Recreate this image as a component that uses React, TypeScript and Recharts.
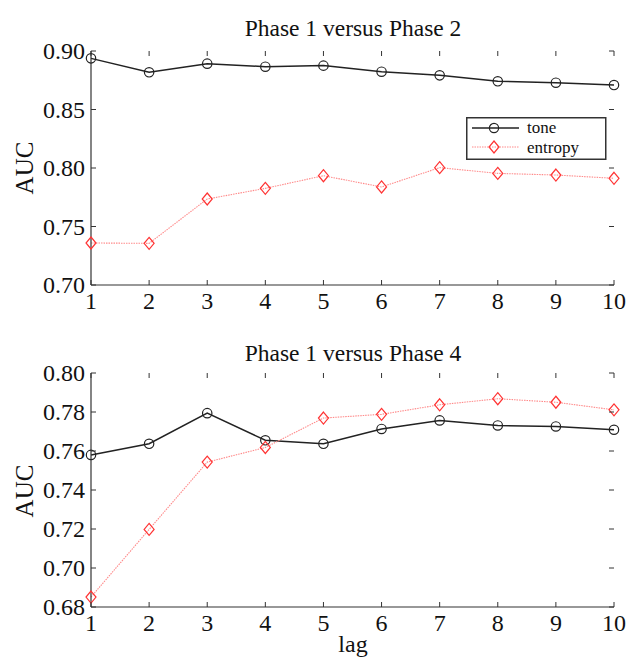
import React from 'react';
import { LineChart, Line, XAxis, YAxis, Legend } from 'recharts';

const lags = [1, 2, 3, 4, 5, 6, 7, 8, 9, 10];
const toneP2 = [0.8937, 0.8818, 0.8892, 0.8866, 0.8875, 0.8823, 0.8792, 0.8741, 0.8729, 0.8709];
const entropyP2 = [0.7359, 0.7356, 0.7735, 0.7826, 0.7934, 0.7838, 0.8003, 0.7954, 0.794, 0.7912];
const toneP4 = [0.758, 0.7637, 0.7794, 0.7655, 0.7637, 0.7713, 0.7757, 0.7731, 0.7726, 0.7709];
const entropyP4 = [0.6851, 0.7198, 0.7543, 0.7618, 0.7769, 0.7788, 0.7837, 0.7868, 0.785, 0.7811];
const ticksP2 = [0.7, 0.75, 0.8, 0.85, 0.9];
const ticksP4 = [0.68, 0.7, 0.72, 0.74, 0.76, 0.78, 0.8];
const titles = ['Phase 1 versus Phase 2', 'Phase 1 versus Phase 4'];

const FONT = '"Liberation Serif", "Times New Roman", serif';
const W = 627;
const PLOT_W = 523;
const PLOT_H = 234;
const AX = '#333';
const TONE = '#222';
const ENT_LINE = '#ff8a8a';
const ENT_MARK = '#ff3333';

const XTick = (props: any) => {
  const { x, y, payload } = props;
  const ay = y - 6;
  return (
    <g>
      <line x1={x} x2={x} y1={ay} y2={ay - 5} stroke={AX} strokeWidth={1} />
      <line x1={x} x2={x} y1={ay - PLOT_H} y2={ay - PLOT_H + 5} stroke={AX} strokeWidth={1} />
      <text x={x} y={ay + 24} textAnchor="middle" fontSize={24} fontFamily={FONT} fill="#111">
        {payload.value}
      </text>
    </g>
  );
};

const YTick = (props: any) => {
  const { x, y, payload } = props;
  const ax = x + 7;
  return (
    <g>
      <line x1={ax} x2={ax + 5} y1={y} y2={y} stroke={AX} strokeWidth={1} />
      <line x1={ax + PLOT_W - 5} x2={ax + PLOT_W} y1={y} y2={y} stroke={AX} strokeWidth={1} />
      <text x={ax - 6} y={y} dy="0.35em" textAnchor="end" fontSize={24} fontFamily={FONT} fill="#111">
        {Number(payload.value).toFixed(2)}
      </text>
    </g>
  );
};

const ToneDot = (props: any) => {
  const { cx, cy, index } = props;
  if (cx == null || cy == null) return <g key={`t${index}`} />;
  return <circle key={`t${index}`} cx={cx} cy={cy} r={4.7} fill="none" stroke={TONE} strokeWidth={1.2} />;
};

const EntDot = (props: any) => {
  const { cx, cy, index } = props;
  if (cx == null || cy == null) return <g key={`e${index}`} />;
  return (
    <path
      key={`e${index}`}
      d={`M${cx},${cy - 6} L${cx + 5},${cy} L${cx},${cy + 6} L${cx - 5},${cy} Z`}
      fill="none"
      stroke={ENT_MARK}
      strokeWidth={1.2}
    />
  );
};

const LegendBox = () => (
  <svg width={142} height={44} style={{ display: 'block' }}>
    <rect x={0.75} y={0.75} width={139} height={41.5} fill="#fff" stroke="#333" strokeWidth={1.5} />
    <line x1={6} x2={53} y1={11} y2={11} stroke={TONE} strokeWidth={1.4} />
    <circle cx={28} cy={11} r={4.6} fill="none" stroke={TONE} strokeWidth={1.2} />
    <text x={61} y={16} fontSize={17} fontFamily={FONT} fill="#111">tone</text>
    <line x1={6} x2={53} y1={30} y2={30} stroke={ENT_LINE} strokeWidth={1} strokeDasharray="1.5 1" />
    <path d="M28,24 L33,30 L28,36 L23,30 Z" fill="none" stroke={ENT_MARK} strokeWidth={1.2} />
    <text x={61} y={35.5} fontSize={17} fontFamily={FONT} fill="#111">entropy</text>
  </svg>
);

type PanelProps = {
  tone: number[];
  entropy: number[];
  domain: [number, number];
  ticks: number[];
  height: number;
  top: number;
  xHeight: number;
  legend?: boolean;
};

const Panel = ({ tone, entropy, domain, ticks, height, top, xHeight, legend }: PanelProps) => {
  const data = lags.map((lag, i) => ({ lag, tone: tone[i], entropy: entropy[i] }));
  return (
    <LineChart width={W} height={height} data={data} margin={{ top, right: 13, bottom: 0, left: 0 }}>
      <XAxis
        xAxisId="b"
        dataKey="lag"
        type="number"
        domain={[1, 10]}
        ticks={lags}
        interval={0}
        height={xHeight}
        tickSize={0}
        tickMargin={6}
        tickLine={false}
        axisLine={{ stroke: AX, strokeWidth: 1.2 }}
        tick={<XTick />}
      />
      <XAxis
        xAxisId="t"
        dataKey="lag"
        type="number"
        domain={[1, 10]}
        orientation="top"
        height={0}
        tick={false}
        tickLine={false}
        axisLine={{ stroke: AX, strokeWidth: 1.2 }}
      />
      <YAxis
        yAxisId="l"
        type="number"
        domain={domain}
        ticks={ticks}
        interval={0}
        width={91}
        tickSize={0}
        tickMargin={7}
        tickLine={false}
        axisLine={{ stroke: AX, strokeWidth: 1.2 }}
        tick={<YTick />}
      />
      <YAxis
        yAxisId="r"
        orientation="right"
        type="number"
        domain={domain}
        width={0}
        tick={false}
        tickLine={false}
        axisLine={{ stroke: AX, strokeWidth: 1.2 }}
      />
      <Line
        xAxisId="b"
        yAxisId="l"
        type="linear"
        dataKey="tone"
        stroke={TONE}
        strokeWidth={1.5}
        dot={ToneDot}
        activeDot={false}
        isAnimationActive={false}
      />
      <Line
        xAxisId="b"
        yAxisId="l"
        type="linear"
        dataKey="entropy"
        stroke={ENT_LINE}
        strokeWidth={1.1}
        strokeDasharray="1.5 1"
        dot={EntDot}
        activeDot={false}
        isAnimationActive={false}
      />
      {legend && (
        <Legend
          layout="vertical"
          align="center"
          verticalAlign="middle"
          content={() => <LegendBox />}
          wrapperStyle={{ left: 466, top: 117, width: 142, height: 44 }}
        />
      )}
    </LineChart>
  );
};

export default function App() {
  return (
    <div style={{ position: 'absolute', left: 0, top: 0, width: W, height: 662, background: '#fff' }}>
      <div style={{ position: 'absolute', left: 0, top: 0 }}>
        <Panel tone={toneP2} entropy={entropyP2} domain={[0.7, 0.9]} ticks={ticksP2} height={320} top={51} xHeight={35} legend />
      </div>
      <div style={{ position: 'absolute', left: 0, top: 330 }}>
        <Panel tone={toneP4} entropy={entropyP4} domain={[0.68, 0.8]} ticks={ticksP4} height={332} top={43} xHeight={55} />
      </div>
      <svg width={W} height={662} style={{ position: 'absolute', left: 0, top: 0, pointerEvents: 'none' }}>
        <text x={353} y={36} textAnchor="middle" fontSize={23.5} fontFamily={FONT} fill="#111">{titles[0]}</text>
        <text x={353} y={361} textAnchor="middle" fontSize={23.5} fontFamily={FONT} fill="#111">{titles[1]}</text>
        <text transform="translate(33,168) rotate(-90)" textAnchor="middle" fontSize={25} fontFamily={FONT} fill="#111">AUC</text>
        <text transform="translate(33,491) rotate(-90)" textAnchor="middle" fontSize={25} fontFamily={FONT} fill="#111">AUC</text>
        <text x={353} y={652} textAnchor="middle" fontSize={24} fontFamily={FONT} fill="#111">lag</text>
      </svg>
    </div>
  );
}
